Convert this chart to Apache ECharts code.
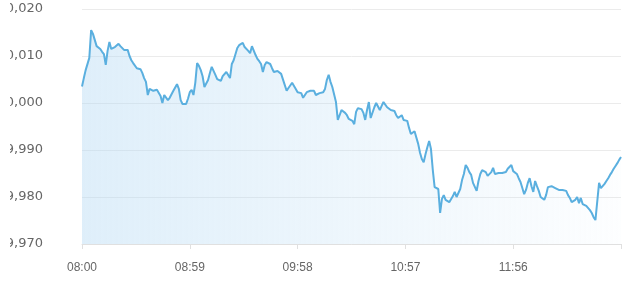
<!DOCTYPE html>
<html>
<head>
<meta charset="utf-8">
<script src="https://cdn.jsdelivr.net/npm/echarts@6/dist/echarts.min.js"></script>
<style>
html,body{margin:0;padding:0;background:#fff;}
#chart{width:640px;height:287px;}
</style>
</head>
<body>
<div id="chart"></div>
<script>
// Start time and number of one-minute samples
var startTime = '08:00';
var sampleCount = 296;

// Y axis ticks
var yTicks = [9.970, 9.980, 9.990, 10.000, 10.010, 10.020];

// Price per minute
var prices = [
10.0035,10.0053,10.0070,10.0070,10.0096,10.0155,10.0147,10.0147,10.0121,10.0119,
10.0115,10.0109,10.0104,10.0081,10.0111,10.0130,10.0115,10.0117,10.0119,10.0121,
10.0126,10.0121,10.0123,10.0113,10.0113,10.0113,10.0100,10.0091,10.0085,10.0083,
10.0074,10.0074,10.0072,10.0064,10.0053,10.0045,10.0017,10.0030,10.0034,10.0026,
10.0026,10.0028,10.0032,10.0015,10.0000,10.0017,10.0015,10.0006,10.0011,10.0015,
10.0026,10.0023,10.0040,10.0030,10.0006,9.9998,9.9996,9.9998,10.0009,10.0023,
10.0028,10.0017,10.0043,10.0085,10.0079,10.0070,10.0057,10.0034,10.0038,10.0049,
10.0064,10.0077,10.0077,10.0060,10.0051,10.0049,10.0047,10.0057,10.0057,10.0066,
10.0066,10.0053,10.0083,10.0091,10.0094,10.0117,10.0123,10.0123,10.0128,10.0119,
10.0115,10.0111,10.0106,10.0121,10.0119,10.0102,10.0094,10.0089,10.0083,10.0066,
10.0081,10.0087,10.0083,10.0083,10.0074,10.0066,10.0062,10.0068,10.0066,10.0062,
10.0062,10.0038,10.0026,10.0032,10.0036,10.0043,10.0043,10.0030,10.0023,10.0026,
10.0021,10.0011,10.0009,10.0023,10.0026,10.0026,10.0023,10.0026,10.0017,10.0017,
10.0021,10.0021,10.0023,10.0030,10.0049,10.0060,10.0045,10.0034,10.0038,10.0002,
9.9964,9.9974,9.9985,9.9987,9.9979,9.9974,9.9966,9.9968,9.9962,9.9955,
9.9981,9.9989,9.9985,9.9987,9.9979,9.9964,9.9985,10.0002,9.9968,9.9966,
9.9991,10.0000,9.9996,9.9985,9.9994,10.0002,9.9998,9.9991,9.9987,9.9985,
9.9983,9.9983,9.9974,9.9968,9.9968,9.9974,9.9964,9.9964,9.9962,9.9947,
9.9934,9.9936,9.9940,9.9936,9.9913,9.9894,9.9881,9.9874,9.9891,9.9906,
9.9919,9.9902,9.9857,9.9821,9.9817,9.9817,9.9766,9.9796,9.9804,9.9794,
9.9794,9.9789,9.9789,9.9802,9.9811,9.9800,9.9802,9.9817,9.9836,9.9849,
9.9868,9.9862,9.9853,9.9847,9.9830,9.9826,9.9813,9.9834,9.9849,9.9857,
9.9857,9.9853,9.9845,9.9843,9.9853,9.9862,9.9849,9.9851,9.9851,9.9853,
9.9851,9.9851,9.9853,9.9860,9.9860,9.9868,9.9855,9.9857,9.9849,9.9840,
9.9832,9.9819,9.9806,9.9815,9.9830,9.9840,9.9823,9.9811,9.9834,9.9823,
9.9813,9.9800,9.9802,9.9794,9.9804,9.9821,9.9823,9.9823,9.9823,9.9819,
9.9819,9.9815,9.9811,9.9815,9.9815,9.9813,9.9804,9.9798,9.9789,9.9787,
9.9794,9.9800,9.9787,9.9798,9.9785,9.9781,9.9781,9.9779,9.9772,9.9766,
9.9757,9.9751,9.9755,9.9830,9.9819,9.9823,9.9828,9.9834,9.9840,9.9847,
9.9853,9.9860,9.9866,9.9872,9.9879,9.9885
];

// Category labels: one per minute
var categories = [];
(function () {
  var p = startTime.split(':');
  var base = parseInt(p[0], 10) * 60 + parseInt(p[1], 10);
  for (var i = 0; i < sampleCount; i++) {
    var t = base + i;
    var h = Math.floor(t / 60), m = t % 60;
    categories.push((h < 10 ? '0' : '') + h + ':' + (m < 10 ? '0' : '') + m);
  }
})();

var labelStep = 59;

var chart = echarts.init(document.getElementById('chart'), null, {renderer: 'canvas'});
chart.setOption({
  animation: false,
  grid: {left: 82, right: 19, top: 9, bottom: 43, containLabel: false, outerBoundsMode: 'none'},
  graphic: [{
    // the reference image is cut off at its left edge
    type: 'rect', left: 0, top: 0, z: 100,
    shape: {width: 10, height: 250},
    style: {fill: '#ffffff'}
  }],
  xAxis: {
    type: 'category',
    boundaryGap: false,
    data: categories,
    axisLine: {lineStyle: {color: '#e0e0e0', width: 1}},
    axisTick: {show: true, interval: labelStep - 1, length: 5, lineStyle: {color: '#e0e0e0'}},
    axisLabel: {
      interval: function (idx) { return idx % labelStep === 0 && idx < sampleCount - 1; },
      color: '#666',
      fontSize: 12,
      fontFamily: 'Liberation Sans, Arial, sans-serif',
      margin: 18
    },
    splitLine: {show: false}
  },
  yAxis: {
    type: 'value',
    min: yTicks[0],
    max: yTicks[yTicks.length - 1],
    interval: 0.01,
    axisLine: {show: false},
    axisTick: {show: false},
    axisLabel: {
      color: '#666',
      fontSize: 13,
      fontFamily: 'DejaVu Sans, sans-serif',
      margin: 39,
      formatter: function (v) { return v.toFixed(3).replace('.', ','); }
    },
    splitLine: {lineStyle: {color: '#ebebeb', width: 1}}
  },
  series: [{
    type: 'line',
    data: prices,
    showSymbol: false,
    symbol: 'none',
    smooth: false,
    lineStyle: {color: '#5aafdf', width: 2},
    areaStyle: {
      color: new echarts.graphic.LinearGradient(0, 0, 1, 0, [
        {offset: 0, color: 'rgba(178,216,243,0.6)'},
        {offset: 1, color: 'rgba(178,216,243,0.04)'}
      ]),
      origin: 'start'
    }
  }]
});
</script>
</body>
</html>
